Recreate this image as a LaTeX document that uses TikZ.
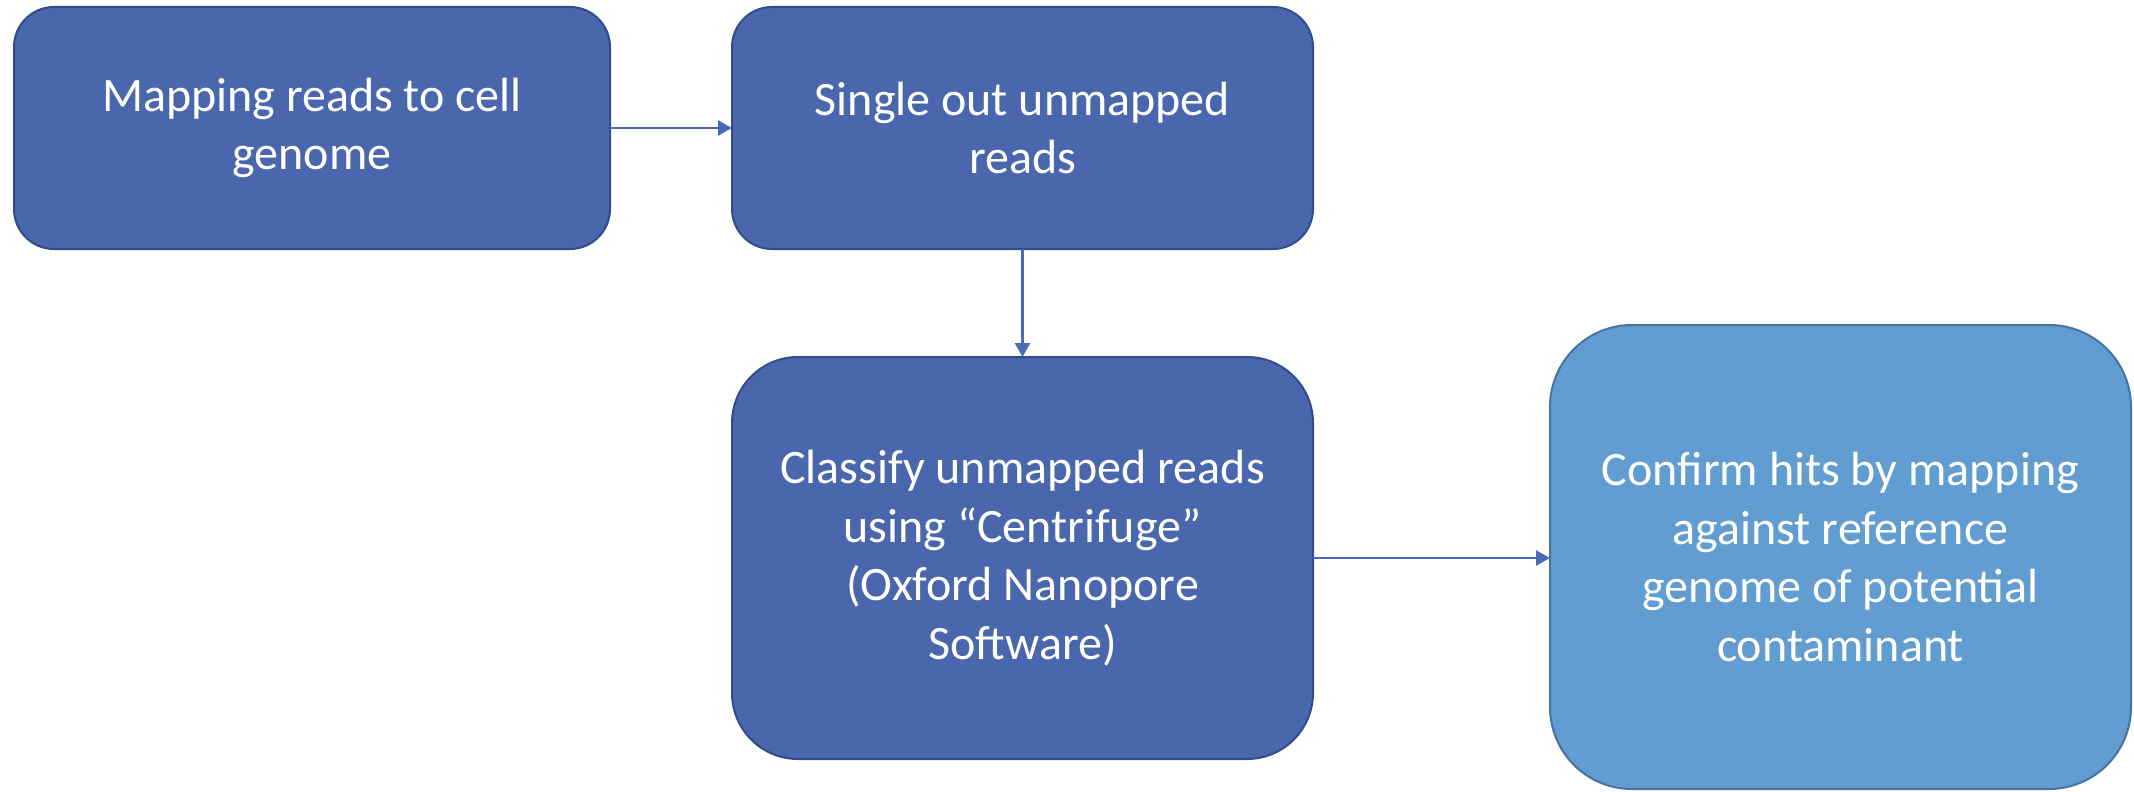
\documentclass[tikz,border=0pt]{standalone}
\usepackage{fontspec}
\setmainfont{Carlito}
\usetikzlibrary{arrows.meta}
\definecolor{stepblue}{HTML}{4A67AE}
\definecolor{stepedge}{HTML}{304C8A}
\definecolor{hitblue}{HTML}{629DD1}
\definecolor{hitedge}{HTML}{4674A0}
\definecolor{linkblue}{HTML}{4A6AB8}
\begin{document}
\begin{tikzpicture}[x=1pt,y=-1pt,
    stepbox/.style={rectangle,draw=stepedge,fill=stepblue,line width=2pt,
        text=white,align=center,inner sep=0pt,outer sep=0pt,
        font=\fontsize{48}{58.5}\selectfont},
    link/.style={draw=linkblue,line width=2.5pt,-{Triangle[length=14pt,width=15pt]}}]
    \useasboundingbox (0,0) rectangle (2134,792);
    % Pipeline steps
    \node[stepbox,rounded corners=40pt,minimum width=596pt,minimum height=242pt]
        (map) at (312,128) {Mapping reads to cell\\genome};
    \node[stepbox,rounded corners=40pt,minimum width=581pt,minimum height=242pt]
        (single) at (1022.5,128) {Single out unmapped\\reads};
    \node[stepbox,rounded corners=66pt,minimum width=581pt,minimum height=402pt]
        (classify) at (1022.5,558) {Classify unmapped reads\\using “Centrifuge”\\(Oxford Nanopore\\Software)};
    \node[stepbox,draw=hitedge,fill=hitblue,rounded corners=82pt,minimum width=581pt,minimum height=464pt]
        (confirm) at (1840.5,557) {Confirm hits by mapping\\against reference\\genome of potential\\contaminant};

    % Connectors
    \draw[link] (map.east) -- (single.west);
    \draw[link] (single.south) -- (classify.north);
    \draw[link] (classify.east) -- (classify.east -| confirm.west);
\end{tikzpicture}
\end{document}
